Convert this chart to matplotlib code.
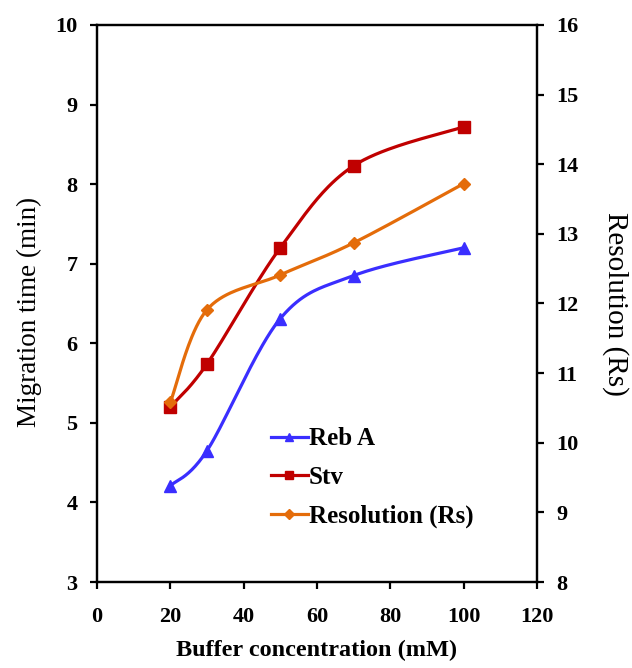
import numpy as np
import matplotlib
matplotlib.use("Agg")
import matplotlib.pyplot as plt
from matplotlib.lines import Line2D

# data
buffer_mM = [20, 30, 50, 70, 100]
reb_a = [4.21, 4.65, 6.31, 6.85, 7.20]
stv = [5.20, 5.74, 7.20, 8.23, 8.72]
resolution = [10.58, 11.91, 12.41, 12.87, 13.72]

x_ticks = [0, 20, 40, 60, 80, 100, 120]
left_ticks = [3, 4, 5, 6, 7, 8, 9, 10]
right_ticks = [8, 9, 10, 11, 12, 13, 14, 15, 16]

BLUE = "#3A2EFF"
RED = "#C00000"
ORANGE = "#E46C0A"

plt.rcParams["font.family"] = ["Liberation Serif", "DejaVu Serif"]


def smooth(x, y, n=40):
    # Excel-like smoothed line (Catmull-Rom as cubic Bezier)
    p = np.column_stack([x, y]).astype(float)
    pts = [p[0]]
    for i in range(len(p) - 1):
        p0 = p[i - 1] if i > 0 else p[i]
        p1, p2 = p[i], p[i + 1]
        p3 = p[i + 2] if i + 2 < len(p) else p[i + 1]
        c1 = p1 + (p2 - p0) / 6
        c2 = p2 - (p3 - p1) / 6
        t = np.linspace(0, 1, n)[1:, None]
        seg = ((1 - t) ** 3) * p1 + 3 * ((1 - t) ** 2) * t * c1 \
            + 3 * (1 - t) * t ** 2 * c2 + t ** 3 * p2
        pts.extend(seg)
    pts = np.array(pts)
    return pts[:, 0], pts[:, 1]


fig = plt.figure(figsize=(6.32, 6.68), dpi=100)
ax = fig.add_axes([0.1535, 0.1287, 0.696, 0.834])
ax2 = ax.twinx()

lw = 2.3
sx, sy = smooth(buffer_mM, reb_a)
ax.plot(sx, sy, color=BLUE, lw=lw)
ax.plot(buffer_mM, reb_a, ls="none", marker="^", ms=8.5, color=BLUE)

sx, sy = smooth(buffer_mM, stv)
ax.plot(sx, sy, color=RED, lw=lw)
ax.plot(buffer_mM, stv, ls="none", marker="s", ms=8.5, color=RED)

sx, sy = smooth(buffer_mM, resolution)
ax2.plot(sx, sy, color=ORANGE, lw=lw)
ax2.plot(buffer_mM, resolution, ls="none", marker="D", ms=6, color=ORANGE)

ax.set_xlim(0, 120)
ax.set_ylim(3, 10)
ax2.set_ylim(8, 16)
ax.set_xticks(x_ticks)
ax.set_yticks(left_ticks)
ax2.set_yticks(right_ticks)

for a in (ax, ax2):
    for s in a.spines.values():
        s.set_linewidth(1.6)
    a.tick_params(direction="out", length=5, width=1.6, labelsize=16, pad=9)
    for lab in a.get_xticklabels() + a.get_yticklabels():
        lab.set_fontweight("bold")
ax.tick_params(axis="x", pad=13)

ax.set_xlabel("Buffer concentration (mM)", fontsize=17.5, fontweight="bold", labelpad=9)
ax.set_ylabel("Migration time (min)", fontsize=19.5)
ax2.set_ylabel("Resolution (Rs)", fontsize=21, rotation=270, labelpad=36)
ax.yaxis.set_label_coords(-0.125, 0.485)

handles = [
    Line2D([], [], color=BLUE, lw=lw, marker="^", ms=6),
    Line2D([], [], color=RED, lw=lw, marker="s", ms=6),
    Line2D([], [], color=ORANGE, lw=lw, marker="D", ms=5),
]
ax.legend(handles, ["Reb A", "Stv", "Resolution (Rs)"], loc="upper left",
          bbox_to_anchor=(0.345, 0.318), frameon=False, handlelength=1.45,
          handletextpad=0.05, labelspacing=0.62,
          prop={"weight": "bold", "size": 18})

fig.savefig("out.png", dpi=100)
